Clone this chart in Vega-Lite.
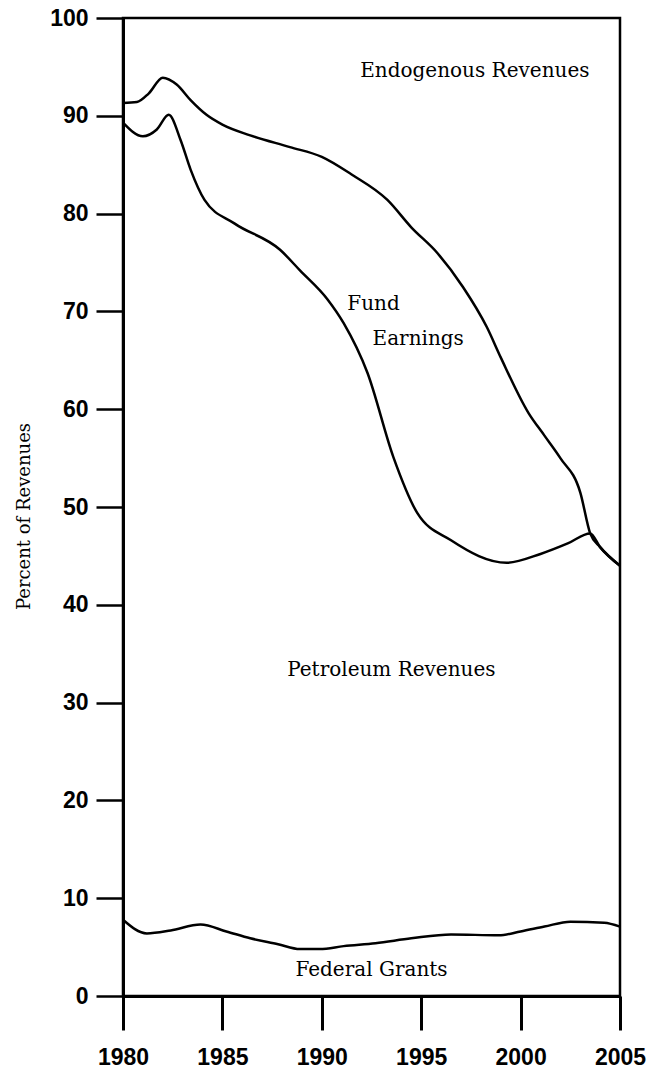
{
  "$schema": "https://vega.github.io/schema/vega-lite/v6.json",
  "width": 497,
  "height": 978,
  "autosize": "none",
  "padding": {"left": 123, "top": 18, "right": 28, "bottom": 83},
  "background": "white",
  "config": {
    "view": {"stroke": "black", "strokeWidth": 2.5},
    "axis": {"grid": false, "domainColor": "black", "tickColor": "black", "labelColor": "black", "titleColor": "black"}
  },
  "datasets": {
    "lines": [
      {"series": "endogenous", "year": 1980, "value": 91.3},
      {"series": "endogenous", "year": 1980.7, "value": 91.4},
      {"series": "endogenous", "year": 1981.3, "value": 92.3},
      {"series": "endogenous", "year": 1982, "value": 93.9},
      {"series": "endogenous", "year": 1982.7, "value": 93.2},
      {"series": "endogenous", "year": 1983.4, "value": 91.6},
      {"series": "endogenous", "year": 1984.2, "value": 90.1},
      {"series": "endogenous", "year": 1985, "value": 89.1},
      {"series": "endogenous", "year": 1986.4, "value": 88.0},
      {"series": "endogenous", "year": 1988.4, "value": 86.8},
      {"series": "endogenous", "year": 1990, "value": 85.8},
      {"series": "endogenous", "year": 1991.5, "value": 84.0},
      {"series": "endogenous", "year": 1993.3, "value": 81.4},
      {"series": "endogenous", "year": 1994.5, "value": 78.6},
      {"series": "endogenous", "year": 1995.8, "value": 76.0},
      {"series": "endogenous", "year": 1997.1, "value": 72.5},
      {"series": "endogenous", "year": 1998.3, "value": 68.4},
      {"series": "endogenous", "year": 1999, "value": 65.3},
      {"series": "endogenous", "year": 2000.4, "value": 59.6},
      {"series": "endogenous", "year": 2001.2, "value": 57.3},
      {"series": "endogenous", "year": 2002, "value": 55.0},
      {"series": "endogenous", "year": 2003, "value": 51.5},
      {"series": "endogenous", "year": 2003.5, "value": 47.3},
      {"series": "endogenous", "year": 2004, "value": 45.9},
      {"series": "endogenous", "year": 2005, "value": 44.0},
      {"series": "fund", "year": 1980, "value": 89.3},
      {"series": "fund", "year": 1981, "value": 87.9},
      {"series": "fund", "year": 1981.7, "value": 88.6},
      {"series": "fund", "year": 1982.3, "value": 90.1},
      {"series": "fund", "year": 1982.9, "value": 87.5},
      {"series": "fund", "year": 1983.4, "value": 84.5},
      {"series": "fund", "year": 1984.1, "value": 81.4},
      {"series": "fund", "year": 1985.6, "value": 79.0},
      {"series": "fund", "year": 1987.9, "value": 76.3},
      {"series": "fund", "year": 1988.9, "value": 74.2},
      {"series": "fund", "year": 1990.3, "value": 71.2},
      {"series": "fund", "year": 1991.1, "value": 68.8},
      {"series": "fund", "year": 1992.3, "value": 63.7},
      {"series": "fund", "year": 1993.6, "value": 55.1},
      {"series": "fund", "year": 1994.8, "value": 49.4},
      {"series": "fund", "year": 1996.5, "value": 46.6},
      {"series": "fund", "year": 1999.3, "value": 44.3},
      {"series": "fund", "year": 2001, "value": 45.2},
      {"series": "fund", "year": 2002.4, "value": 46.3},
      {"series": "fund", "year": 2003.5, "value": 47.3},
      {"series": "fund", "year": 2004, "value": 45.9},
      {"series": "fund", "year": 2005, "value": 44.0},
      {"series": "federal", "year": 1980, "value": 7.8},
      {"series": "federal", "year": 1981.2, "value": 6.4},
      {"series": "federal", "year": 1982.4, "value": 6.7},
      {"series": "federal", "year": 1983.9, "value": 7.3},
      {"series": "federal", "year": 1985.2, "value": 6.6},
      {"series": "federal", "year": 1986.4, "value": 5.9},
      {"series": "federal", "year": 1987.8, "value": 5.3},
      {"series": "federal", "year": 1988.9, "value": 4.8},
      {"series": "federal", "year": 1989.9, "value": 4.8},
      {"series": "federal", "year": 1991.1, "value": 5.1},
      {"series": "federal", "year": 1992.7, "value": 5.4},
      {"series": "federal", "year": 1994.5, "value": 5.9},
      {"series": "federal", "year": 1996.5, "value": 6.3},
      {"series": "federal", "year": 1998.9, "value": 6.2},
      {"series": "federal", "year": 2000, "value": 6.6},
      {"series": "federal", "year": 2001.2, "value": 7.1},
      {"series": "federal", "year": 2002.5, "value": 7.6},
      {"series": "federal", "year": 2004.2, "value": 7.5},
      {"series": "federal", "year": 2005, "value": 7.1}
    ],
    "labels": [
      {"label": "Endogenous Revenues", "year": 1997.7, "value": 94.6},
      {"label": "Fund", "year": 1992.6, "value": 70.8},
      {"label": "Earnings", "year": 1994.85, "value": 67.2},
      {"label": "Petroleum Revenues", "year": 1993.5, "value": 33.3},
      {"label": "Federal Grants", "year": 1992.5, "value": 2.7}
    ]
  },
  "layer": [
    {
      "data": {"name": "lines"},
      "mark": {"type": "line", "color": "black", "strokeWidth": 2.5, "interpolate": "monotone"},
      "encoding": {
        "x": {
          "field": "year", "type": "quantitative",
          "scale": {"domain": [1980, 2005], "nice": false, "zero": false},
          "axis": {
            "title": null,
            "values": [1980, 1985, 1990, 1995, 2000, 2005],
            "format": "d",
            "domainWidth": 3,
            "tickSize": 34,
            "tickWidth": 3,
            "labelFlush": false,
            "labelOverlap": false,
            "labelPadding": 16,
            "labelFont": "Liberation Sans",
            "labelFontWeight": "bold",
            "labelFontSize": 23
          }
        },
        "y": {
          "field": "value", "type": "quantitative",
          "scale": {"domain": [0, 100], "nice": false},
          "axis": {
            "title": "Percent of Revenues",
            "values": [0, 10, 20, 30, 40, 50, 60, 70, 80, 90, 100],
            "domainWidth": 3,
            "tickSize": 27,
            "tickWidth": 2.5,
            "labelPadding": 8,
            "labelFont": "Liberation Sans",
            "labelFontWeight": "bold",
            "labelFontSize": 23,
            "labelOverlap": false,
            "titleFont": "DejaVu Serif",
            "titleFontWeight": "normal",
            "titleFontSize": 18,
            "titlePadding": 16,
            "titleY": 498
          }
        },
        "detail": {"field": "series"}
      }
    },
    {
      "data": {"name": "labels"},
      "mark": {"type": "text", "font": "DejaVu Serif", "fontSize": 20, "color": "black", "baseline": "middle", "align": "center"},
      "encoding": {
        "x": {"field": "year", "type": "quantitative"},
        "y": {"field": "value", "type": "quantitative"},
        "text": {"field": "label"}
      }
    }
  ]
}
